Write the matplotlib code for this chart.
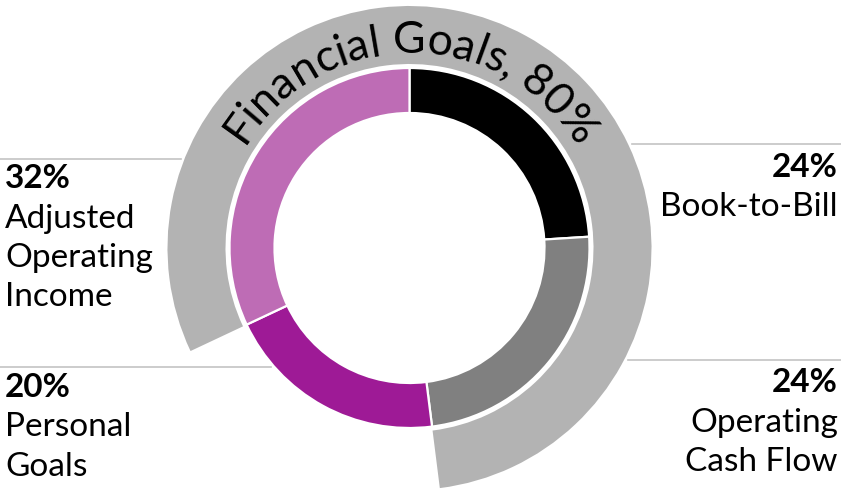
import numpy as np
import matplotlib.pyplot as plt
from matplotlib.textpath import TextPath
from matplotlib.font_manager import FontProperties

# dati
categorie = ["Book-to-Bill", "Operating\nCash Flow", "Personal\nGoals", "Adjusted\nOperating\nIncome"]
pesi = [24, 24, 20, 32]
colori = ["#000000", "#808080", "#9E1A96", "#BE6CB5"]
finanziari = 80
titolo_anello = "Financial Goals, 80%"

plt.rcParams["font.family"] = ["Lato", "DejaVu Sans"]

W, H = 841, 497
fig = plt.figure(figsize=(W / 100, H / 100), dpi=100)
ax = fig.add_axes([0, 0, 1, 1])

cx, cy = 409.5, H - 248
r_in, r_out = 180, 135
r2_in, r2_out = 184, 242

# anello interno
ax.pie(pesi, colors=colori, radius=r_in, center=(cx, cy), startangle=90,
       counterclock=False,
       wedgeprops=dict(width=r_in - r_out, edgecolor="white", linewidth=1.6))

# anello esterno: parte finanziaria (inizia dove inizia Adjusted Operating Income)
inizio = 90 - 360 * (sum(pesi) - pesi[-1]) / 100
ax.pie([finanziari, 100 - finanziari], colors=["#B3B3B3", "none"], radius=r2_out,
       center=(cx, cy), startangle=inizio, counterclock=False,
       wedgeprops=dict(width=r2_out - r2_in, linewidth=0))

ax.set_xlim(0, W)
ax.set_ylim(0, H)
ax.set_aspect("equal")
ax.axis("off")

# testo curvo sull'anello esterno
fs = 32
fp = FontProperties(family="Lato", weight="normal", size=fs)
px = 100 / 72
r_base = 195
apertura = np.radians(2 * 58.5)  # ampiezza angolare del testo
tot = TextPath((0, 0), titolo_anello, size=fs, prop=fp).get_extents().x1 * px
scala = apertura * r_base / tot
for i, ch in enumerate(titolo_anello):
    if ch == " ":
        continue
    fine = TextPath((0, 0), titolo_anello[:i + 1], size=fs, prop=fp).get_extents().x1 * px
    e = TextPath((0, 0), ch, size=fs, prop=fp).get_extents()
    centro = fine - (e.x1 - (e.x0 + e.x1) / 2) * px
    s = (centro - tot / 2) * scala
    ang = 90 - np.degrees(s / r_base)
    x = cx + r_base * np.cos(np.radians(ang))
    y = cy + r_base * np.sin(np.radians(ang))
    ax.text(x, y, ch, fontproperties=fp, rotation=ang - 90,
            ha="center", va="baseline", rotation_mode="anchor", color="black")

# linee guida
grigio_linea = "#C4C4C4"
def x_cerchio(y_px, r):
    dy = (H - y_px) - cy
    return np.sqrt(r ** 2 - dy ** 2)

ax.plot([0, cx - x_cerchio(159, r2_out) - 3], [H - 159, H - 159], color=grigio_linea, lw=1.2)
ax.plot([0, cx - x_cerchio(367, r_in) - 3], [H - 367, H - 367], color=grigio_linea, lw=1.2)
ax.plot([cx + x_cerchio(144, r2_out) + 4, W], [H - 144, H - 144], color=grigio_linea, lw=1.2)
ax.plot([cx + x_cerchio(360, r2_out) + 4, W], [H - 360, H - 360], color=grigio_linea, lw=1.2)

# etichette
fs_lab = 24
interlinea = 39.5
posizioni = [(838, 177, "right"), (838, 392, "right"), (5, 397, "left"), (5, 188, "left")]
for (x, yb, ha), nome, p in zip(posizioni, categorie, pesi):
    ax.text(x, H - yb, f"{p}%", fontsize=fs_lab, fontweight="bold", ha=ha, va="baseline")
    for j, riga in enumerate(nome.split("\n")):
        ax.text(x, H - yb - interlinea * (j + 1), riga, fontsize=fs_lab, ha=ha, va="baseline")

plt.savefig("out.png", dpi=100)
